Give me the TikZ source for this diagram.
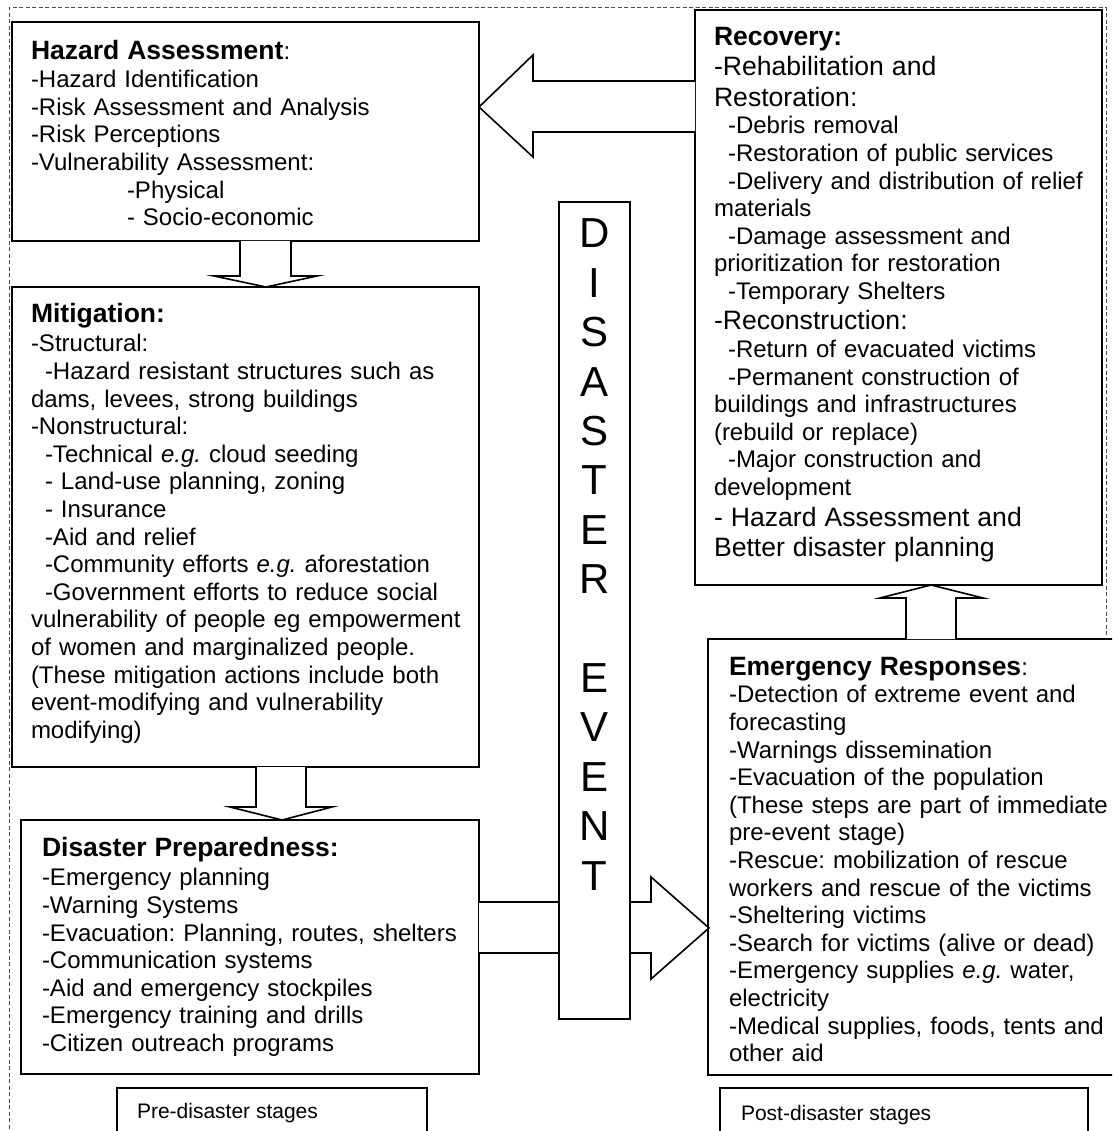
\documentclass[tikz,border=0pt]{standalone}
\usepackage{fontspec}
\setmainfont{Liberation Sans}
\usetikzlibrary{calc}
\setlength{\parindent}{0pt}
\frenchspacing
\newcommand\bodysz{\fontsize{24}{27.6}\selectfont}
\newcommand\bigsz{\fontsize{26.6}{30.5}\selectfont}
\newcommand\ttl[1]{{\fontsize{26.5}{29}\selectfont\bfseries #1}}
\newcommand\ind{\hspace*{14pt}}
\tikzset{
  box/.style={draw, line width=1.9pt, fill=white, anchor=north west, inner sep=0pt, outer sep=0pt},
  txt/.style={anchor=north west, inner sep=0pt, outer sep=0pt, align=left, text width=#1, font=\bodysz},
  blk/.style={draw, line width=1.6pt, fill=white, line join=miter},
  frameline/.style={draw=black!70, line width=1pt, dash pattern=on 4pt off 2.5pt},
  lbl/.style={anchor=base west, inner sep=0pt, outer sep=0pt, font=\fontsize{21}{24}\selectfont},
}
\begin{document}
\begin{tikzpicture}[x=1pt, y=-1pt]
\useasboundingbox (0,0) rectangle (1112,1131);
\clip (0,0) rectangle (1112,1131);
\fill[white] (0,0) rectangle (1112,1131);

% dashed frame
\coordinate (f1) at (9,1135);
\coordinate (f2) at (9,8);
\coordinate (f3) at (1106,8);
\coordinate (f4) at (1106,639);
\draw[frameline] (f1) -- (f2) -- (f3) -- (f4);

% boxes
\node[box, minimum width=467pt, minimum height=219pt] (haz) at (12,22) {};
\node[box, minimum width=467pt, minimum height=480pt] (mit) at (12,287) {};
\node[box, minimum width=458pt, minimum height=254pt] (prep) at (21,820) {};
\node[box, minimum width=310pt, minimum height=60pt] (pre) at (117,1088) {};
\node[box, minimum width=407pt, minimum height=575pt] (rec) at (695,10) {};
\node[box, minimum width=420pt, minimum height=436pt] (emg) at (708,639) {};
\node[box, minimum width=368pt, minimum height=60pt] (post) at (720,1088) {};

% block arrows
\draw[blk] ($(haz.south west)+(228,0)$) -- ++(0,35) -- ++(-26,0)
  -- ($(mit.north west)+(254,0)$) -- ++(51,-11) -- ++(-26,0)
  -- ($(haz.south west)+(279,0)$);
\draw[blk] ($(mit.south west)+(244,0)$) -- ++(0,40) -- ++(-26,0)
  -- ($(prep.north west)+(261,0)$) -- ++(50,-13) -- ++(-26,0)
  -- ($(mit.south west)+(294,0)$);
\draw[blk] ($(rec.north west)+(0,71)$) -- ++(-162,0) -- ++(0,-26)
  -- ($(haz.north east)+(0,85)$) -- ++(54,50) -- ++(0,-25)
  -- ($(rec.north west)+(0,122)$);
\draw[blk] ($(emg.north west)+(198,0)$) -- ++(0,-41) -- ++(-26,0)
  -- ($(rec.south west)+(236,0)$) -- ++(52,13) -- ++(-27,0)
  -- ($(emg.north west)+(248,0)$);
\draw[blk] ($(prep.north east)+(0,82)$) -- ++(172,0) -- ++(0,-25)
  -- ($(emg.north west)+(1,289)$) -- ++(-58,51) -- ++(0,-26)
  -- ($(prep.north east)+(0,133)$);

% disaster event column
\node[box, minimum width=71pt, minimum height=817pt] (dis) at (559,202) {};
\node[anchor=north, inner sep=0pt, outer sep=0pt, align=center, text width=60pt,
      font=\fontsize{42}{49.4}\selectfont] (dist) at (594.5,219)
  {D\par I\par S\par A\par S\par T\par E\par R\par\vspace{49.4pt}E\par V\par E\par N\par T};

% texts
\node[txt=440pt] (hazt) at (31,40) {%
\ttl{Hazard Assessment}:\par\vspace{1pt}
-Hazard Identification\par
-Risk Assessment and Analysis\par
-Risk Perceptions\par
-Vulnerability Assessment:\par
\hspace*{96pt}-Physical\par
\hspace*{96pt}- Socio-economic};

\node[txt=440pt] (mitt) at (31,303) {%
\ttl{Mitigation:}\par\vspace{2pt}
-Structural:\par
\ind-Hazard resistant structures such as\par
dams, levees, strong buildings\par
-Nonstructural:\par
\ind-Technical \textit{e.g.} cloud seeding\par
\ind- Land-use planning, zoning\par
\ind- Insurance\par
\ind-Aid and relief\par
\ind-Community efforts \textit{e.g.} aforestation\par
\ind-Government efforts to reduce social\par
vulnerability of people eg empowerment\par
of women and marginalized people.\par
(These mitigation actions include both\par
event-modifying and vulnerability\par
modifying)};

\node[txt=430pt] (prept) at (42,837) {%
\ttl{Disaster Preparedness:}\par\vspace{2pt}
-Emergency planning\par
-Warning Systems\par
-Evacuation: Planning, routes, shelters\par
-Communication systems\par
-Aid and emergency stockpiles\par
-Emergency training and drills\par
-Citizen outreach programs};

\node[txt=385pt] (rect) at (714,27) {%
\ttl{Recovery:}\par
{\bigsz -Rehabilitation and\par}
{\bigsz Restoration:\par}
\ind-Debris removal\par
\ind-Restoration of public services\par
\ind-Delivery and distribution of relief\par
materials\par
\ind-Damage assessment and\par
prioritization for restoration\par
\ind-Temporary Shelters\par
{\bigsz -Reconstruction:\par}
\ind-Return of evacuated victims\par
\ind-Permanent construction of\par
buildings and infrastructures\par
(rebuild or replace)\par
\ind-Major construction and\par
development\par
{\bigsz - Hazard Assessment and\par}
{\bigsz Better disaster planning\par}};

\node[txt=380pt] (emgt) at (729,657) {%
\ttl{Emergency Responses}:\par
-Detection of extreme event and\par
forecasting\par
-Warnings dissemination\par
-Evacuation of the population\par
(These steps are part of immediate\par
pre-event stage)\par
-Rescue: mobilization of rescue\par
workers and rescue of the victims\par
-Sheltering victims\par
-Search for victims (alive or dead)\par
-Emergency supplies \textit{e.g.} water,\par
electricity\par
-Medical supplies, foods, tents and\par
other aid};

\node[lbl] (pret) at (137,1118.5) {Pre-disaster stages};
\node[lbl] (postt) at (741,1120) {Post-disaster stages};
\end{tikzpicture}
\end{document}
